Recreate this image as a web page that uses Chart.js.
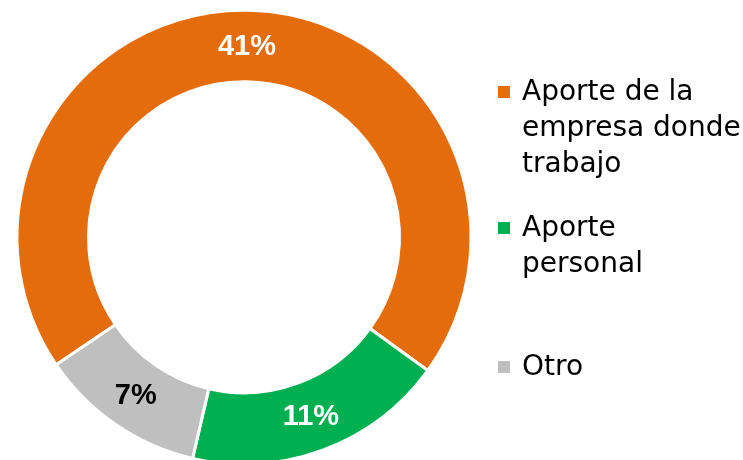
<!DOCTYPE html>
<html>
<head>
    <script src="https://cdn.jsdelivr.net/npm/chart.js"></script>
    <style>
        body {
            margin: 0;
            background-color: #fff;
        }

        .frame {
            width: 743px;
            height: 460px;
            overflow: hidden;
        }

        /* the ring runs off the bottom edge in the original, so the canvas is a bit taller */
        .chart-container {
            width: 743px;
            height: 466px;
        }
    </style>
</head>
<body>
    <div class="frame">
        <div class="chart-container">
            <canvas id="myChart"></canvas>
        </div>
    </div>
    <script>
        // data
        const categories = ['Aporte de la empresa donde trabajo', 'Aporte personal', 'Otro'];
        const legendLines = [
            ['Aporte de la', 'empresa donde', 'trabajo'],
            ['Aporte', 'personal'],
            ['Otro']
        ];
        const values = [41, 11, 7];
        const colors = ['#E46C0A', '#00B050', '#BFBFBF'];
        const labelColors = ['#ffffff', '#ffffff', '#000000'];

        // draws the % figure in the middle of each slice
        const sliceLabels = {
            id: 'sliceLabels',
            afterDatasetsDraw(chart) {
                const ctx = chart.ctx;
                const meta = chart.getDatasetMeta(0);
                ctx.save();
                ctx.font = 'bold 29px "Liberation Sans", Arial, sans-serif';
                ctx.textAlign = 'center';
                ctx.textBaseline = 'middle';
                meta.data.forEach((arc, i) => {
                    const pos = arc.tooltipPosition();
                    ctx.fillStyle = labelColors[i];
                    ctx.fillText(values[i] + '%', pos.x, pos.y + 1);
                });
                ctx.restore();
            }
        };

        // legend on the right, with wrapped lines like the original
        const sideLegend = {
            id: 'sideLegend',
            afterDraw(chart) {
                const ctx = chart.ctx;
                const starts = [100, 236, 375]; // baseline of first line of each item
                ctx.save();
                ctx.font = '28px "DejaVu Sans", sans-serif';
                ctx.textBaseline = 'alphabetic';
                ctx.textAlign = 'left';
                legendLines.forEach((lines, i) => {
                    ctx.fillStyle = colors[i];
                    ctx.fillRect(498, starts[i] - 14, 12, 12);
                    ctx.fillStyle = '#000';
                    lines.forEach((t, j) => {
                        ctx.fillText(t, 522, starts[i] + j * 36);
                    });
                });
                ctx.restore();
            }
        };

        const ctx = document.getElementById('myChart').getContext('2d');
        new Chart(ctx, {
            type: 'doughnut',
            data: {
                labels: categories,
                datasets: [{
                    data: values,
                    backgroundColor: colors,
                    borderColor: '#ffffff',
                    borderWidth: 3
                }]
            },
            options: {
                responsive: true,
                maintainAspectRatio: false,
                animation: false,
                rotation: 235.8,
                cutout: '68.5%',
                layout: {
                    padding: { left: 15.5, right: 270.5, top: 8.5, bottom: 0 }
                },
                plugins: {
                    legend: { display: false },
                    tooltip: { enabled: false }
                }
            },
            plugins: [sliceLabels, sideLegend]
        });
    </script>
</body>
</html>
